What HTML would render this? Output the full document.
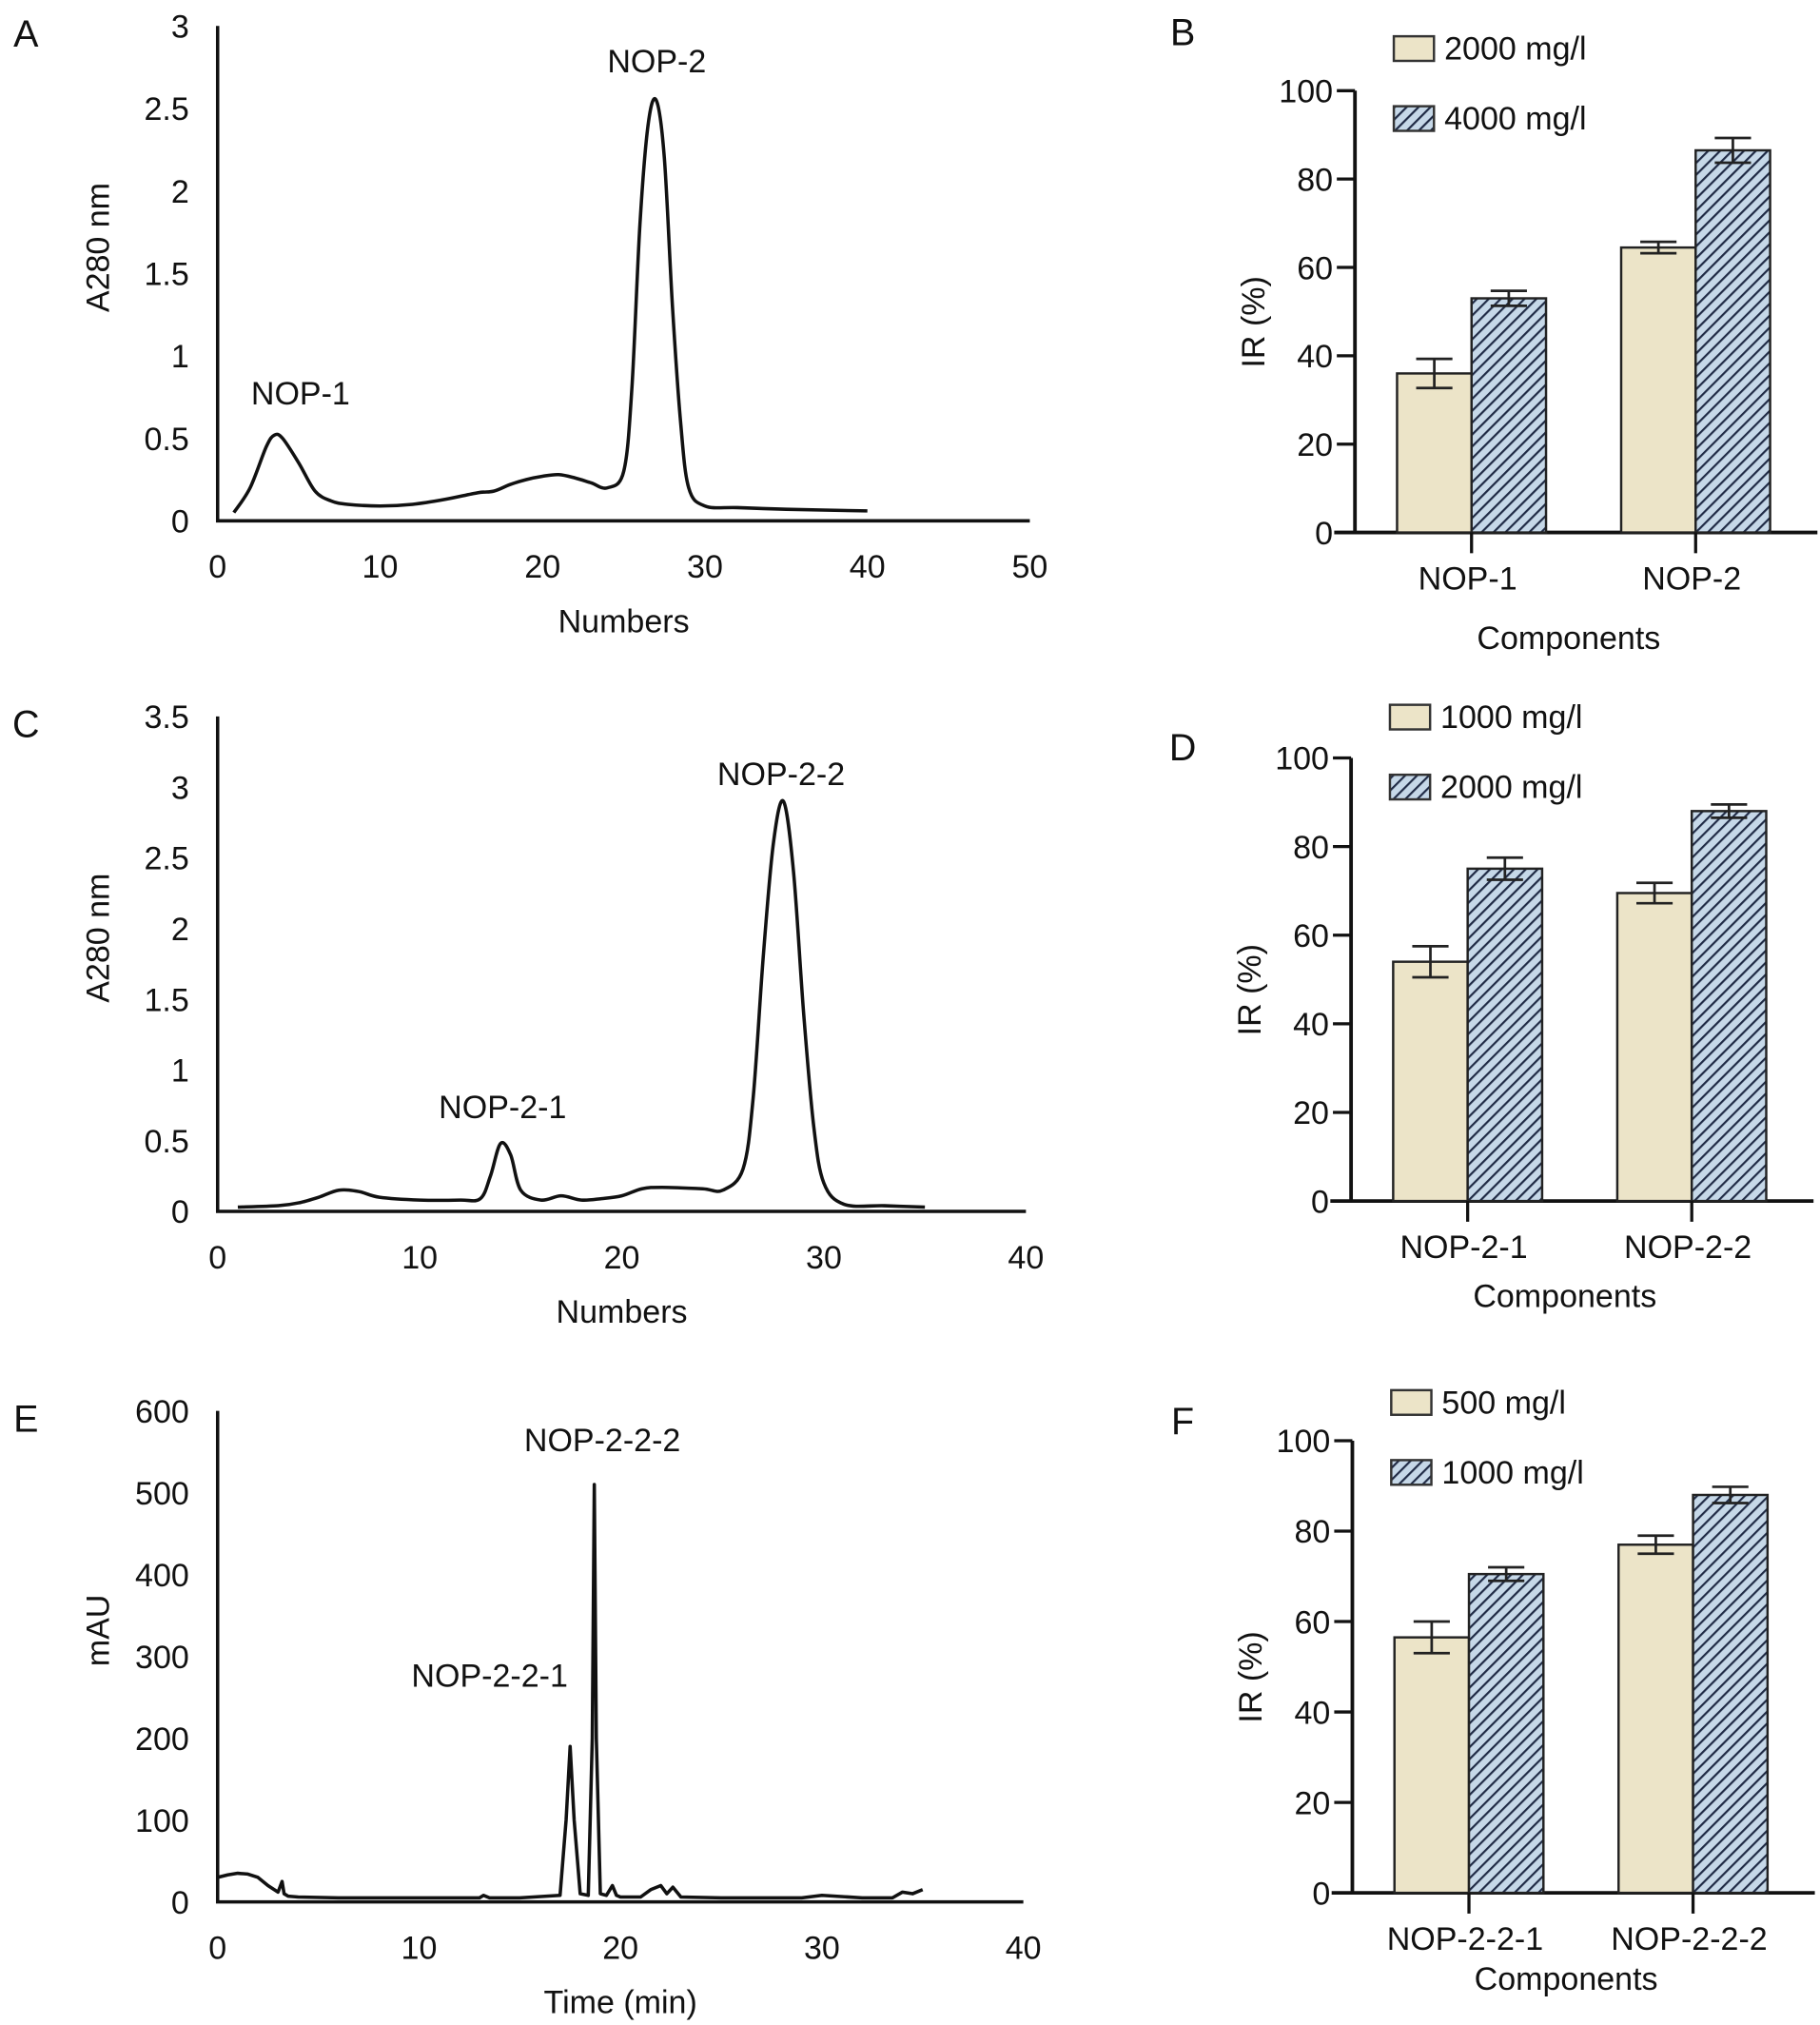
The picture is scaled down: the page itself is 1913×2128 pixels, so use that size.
<!DOCTYPE html>
<html><head><meta charset="utf-8"><style>
html,body{margin:0;padding:0;background:#fff}
svg{display:block}
text{font-family:"Liberation Sans",Arial,sans-serif;fill:#111}
</style></head><body>
<svg id="fig" width="1913" height="2128" viewBox="0 0 1405 1563" preserveAspectRatio="none" xmlns="http://www.w3.org/2000/svg">
<defs>
<pattern id="hatch" patternUnits="userSpaceOnUse" width="6.5" height="6.5" patternTransform="rotate(45)">
<rect width="6.5" height="6.5" fill="#c6d8e8"/>
<line x1="0" y1="0" x2="0" y2="6.5" stroke="#1f2a45" stroke-width="3.2"/>
</pattern>
</defs>
</svg>
<script>
// ---------- data ----------
const aX=[1,2,3,3.5,4,5,6,7,8,10,12,14,16,17,18,19,20,21,22,23,24,25,25.5,26,26.5,27,27.5,28,28.5,29,30,32,35,40];
const aY=[0.05,0.2,0.45,0.52,0.5,0.35,0.18,0.12,0.1,0.09,0.1,0.13,0.17,0.18,0.22,0.25,0.27,0.28,0.26,0.23,0.2,0.3,0.8,1.8,2.4,2.55,2.2,1.3,0.6,0.2,0.09,0.08,0.07,0.06];
const aXTicks=[0,10,20,30,40,50];
const aYTicks=[0,0.5,1,1.5,2,2.5,3];
const cX=[1,3,4,5,6,7,8,10,12,13,13.5,14,14.5,15,16,17,18,19,20,21,22,24,25,26,26.5,27,27.5,28,28.5,29,29.5,30,31,33,35];
const cY=[0.03,0.04,0.06,0.1,0.15,0.14,0.1,0.08,0.08,0.09,0.25,0.48,0.4,0.15,0.08,0.11,0.08,0.09,0.11,0.16,0.17,0.16,0.15,0.3,0.8,1.8,2.6,2.9,2.4,1.4,0.6,0.2,0.05,0.04,0.03];
const cXTicks=[0,10,20,30,40];
const cYTicks=[0,0.5,1,1.5,2,2.5,3,3.5];
const eX=[0,0.5,1,1.5,2,2.5,3,3.2,3.3,3.5,4,6,10,13,13.2,13.5,15,17,17.3,17.5,17.7,18,18.4,18.6,18.7,18.8,19,19.3,19.6,19.8,20,21,21.5,22,22.3,22.6,23,25,29,30,32,33.5,34,34.5,35];
const eY=[30,33,35,34,30,20,12,25,10,7,6,5,5,5,8,5,5,8,100,190,100,10,8,200,510,200,10,8,20,8,6,6,15,20,10,18,6,5,5,8,5,5,12,10,15];
const eXTicks=[0,10,20,30,40];
const eYTicks=[0,100,200,300,400,500,600];
const barYTicks=[0,20,40,60,80,100];
const bCats=["NOP-1","NOP-2"];
const bLow=[36,64.5], bLowErr=[3.3,1.3], bHigh=[53,86.5], bHighErr=[1.7,2.8];
const bLegend=["2000 mg/l","4000 mg/l"];
const dCats=["NOP-2-1","NOP-2-2"];
const dLow=[54,69.5], dLowErr=[3.5,2.3], dHigh=[75,88], dHighErr=[2.5,1.5];
const dLegend=["1000 mg/l","2000 mg/l"];
const fCats=["NOP-2-2-1","NOP-2-2-2"];
const fLow=[56.5,77], fLowErr=[3.5,2], fHigh=[70.5,88], fHighErr=[1.5,1.8];
const fLegend=["500 mg/l","1000 mg/l"];

const svg=document.getElementById('fig');
const NS="http://www.w3.org/2000/svg";
function el(tag,attrs,parent){const e=document.createElementNS(NS,tag);for(const k in attrs)e.setAttribute(k,attrs[k]);(parent||svg).appendChild(e);return e;}
function txt(s,x,y,size,anchor,parent){const t=el('text',{x:x,y:y,'font-size':size,'text-anchor':anchor||'middle'},parent);t.textContent=s;return t;}

function lineChart(o){
  const g=el('g',{});
  
  
  const sx=v=>o.x0+(v-o.xmin)/(o.xmax-o.xmin)*(o.x1-o.x0);
  const sy=v=>o.y0-(v-o.ymin)/(o.ymax-o.ymin)*(o.y0-o.y1);
  const ax=el('path',{d:`M${o.x0},${o.y1}V${o.y0}H${o.x1}`,fill:'none',stroke:'#111','stroke-width':2.6},g);
  
  
  o.yt.forEach(v=>{const t=txt(String(v),o.x0-22,sy(v)+9,25,'end',g);
    
    });
  o.xt.forEach(v=>{const t=txt(String(v),sx(v),o.y0+44,25,'middle',g);
    
    });
  let d='';
  const P=o.xs.map((x,i)=>[sx(x),sy(o.ys[i])]);
  if(o.smooth){
    d='M'+P[0][0]+','+P[0][1];
    for(let i=0;i<P.length-1;i++){
      const p0=P[Math.max(i-1,0)],p1=P[i],p2=P[i+1],p3=P[Math.min(i+2,P.length-1)];
      const c1=[p1[0]+(p2[0]-p0[0])/6,p1[1]+(p2[1]-p0[1])/6];
      const c2=[p2[0]-(p3[0]-p1[0])/6,p2[1]-(p3[1]-p1[1])/6];
      d+=`C${c1[0]},${c1[1]} ${c2[0]},${c2[1]} ${p2[0]},${p2[1]}`;
    }
  } else d='M'+P.map(p=>p.join(',')).join('L');
  const ln=el('path',{d:d,fill:'none',stroke:'#111','stroke-width':2.6,'stroke-linejoin':'round'},g);
  
  
  const xl=txt(o.xlabel,(o.x0+o.x1)/2,o.y0+86,25,'middle',g);
  
  
  const yl=txt(o.ylabel,0,0,25,'middle',g);
  yl.setAttribute('transform',`translate(${o.x0-84},${(o.y0+o.y1)/2-20}) rotate(-90)`);
  
  
  const pl=txt(o.panel,20,o.y1+16,29,'middle',g);
  
  
  o.peaks.forEach(p=>{const t=txt(p[0],p[1],p[2],25,'middle',g);
    
    });
}

function barChart(o){
  const g=el('g',{});
  
  
  const sy=v=>o.y0-v/100*(o.y0-o.y1);
  const ax=el('path',{d:`M${o.x0},${o.y1}V${o.y0}M${o.x0-16},${o.y0}H${o.x0+357}`,fill:'none',stroke:'#111','stroke-width':2.8},g);
  
  
  barYTicks.forEach(v=>{
    const tk=el('line',{x1:o.x0-14,x2:o.x0,y1:sy(v),y2:sy(v),stroke:'#111','stroke-width':2.4},g);
    
    
    const t=txt(String(v),o.x0-17,sy(v)+9,25,'end',g);
    
    
  });
  const bw=57.5;
  o.cats.forEach((c,i)=>{
    const cx=o.x0+90+i*173;
    [[o.low[i],o.lowErr[i],cx-bw,'#ece4c8','bar-low'],[o.high[i],o.highErr[i],cx,'url(#hatch)','bar-high']].forEach(b=>{
      const r=el('rect',{x:b[2],y:sy(b[0]),width:bw,height:o.y0-sy(b[0]),fill:b[3],stroke:'#222','stroke-width':1.8},g);
      
      
      const m=b[2]+bw/2,top=sy(b[0]+b[1]),bot=sy(b[0]-b[1]);
      const eb=el('path',{d:`M${m},${top}V${bot}M${m-14},${top}H${m+14}M${m-14},${bot}H${m+14}`,stroke:'#222','stroke-width':2,fill:'none'},g);
      
      
    });
    const tk=el('line',{x1:cx,x2:cx,y1:o.y0,y2:o.y0+16,stroke:'#111','stroke-width':2.4},g);
    
    
    const t=txt(c,cx-3,o.y0+44,25,'middle',g);
    
    
  });
  const xl=txt('Components',o.x0+165,o.y0+o.xlOff,25,'middle',g);
  
  
  const yl=txt('IR (%)',0,0,25,'middle',g);
  yl.setAttribute('transform',`translate(${o.x0-70},${(o.y0+o.y1)/2+8}) rotate(-90)`);
  
  
  const pl=txt(o.panel,913,o.panelY,29,'middle',g);
  
  
  o.legend.forEach((s,i)=>{
    const ly=o.legY+i*54;
    const r=el('rect',{x:o.x0+30,y:ly,width:31,height:19,fill:i?'url(#hatch)':'#ece4c8',stroke:'#333','stroke-width':1.8},g);
    
    
    const t=txt(s,o.x0+69,ly+18,25,'start',g);
    
    
  });
}

lineChart({name:'chart-a',x0:168,x1:795,y0:402,y1:20,xmin:0,xmax:50,ymin:0,ymax:3,xs:aX,ys:aY,xt:aXTicks,yt:aYTicks,smooth:true,xlabel:'Numbers',ylabel:'A280 nm',panel:'A',peaks:[['NOP-1',232,312],['NOP-2',507,56]]});
lineChart({name:'chart-c',x0:168,x1:792,y0:935,y1:553,xmin:0,xmax:40,ymin:0,ymax:3.5,xs:cX,ys:cY,xt:cXTicks,yt:cYTicks,smooth:true,xlabel:'Numbers',ylabel:'A280 nm',panel:'C',peaks:[['NOP-2-1',388,863],['NOP-2-2',603,606]]});
lineChart({name:'chart-e',x0:168,x1:790,y0:1468,y1:1089,xmin:0,xmax:40,ymin:0,ymax:600,xs:eX,ys:eY,xt:eXTicks,yt:eYTicks,smooth:false,xlabel:'Time (min)',ylabel:'mAU',panel:'E',peaks:[['NOP-2-2-1',378,1302],['NOP-2-2-2',465,1120]]});

barChart({name:'chart-b',x0:1046,y0:411,y1:70,cats:bCats,low:bLow,lowErr:bLowErr,high:bHigh,highErr:bHighErr,legend:bLegend,legY:28,panel:'B',panelY:35,xlOff:90});
barChart({name:'chart-d',x0:1043,y0:927,y1:585,cats:dCats,low:dLow,lowErr:dLowErr,high:dHigh,highErr:dHighErr,legend:dLegend,legY:544,panel:'D',panelY:587,xlOff:82});
barChart({name:'chart-f',x0:1044,y0:1461,y1:1112,cats:fCats,low:fLow,lowErr:fLowErr,high:fHigh,highErr:fHighErr,legend:fLegend,legY:1073,panel:'F',panelY:1107,xlOff:75});
</script>
</body></html>
